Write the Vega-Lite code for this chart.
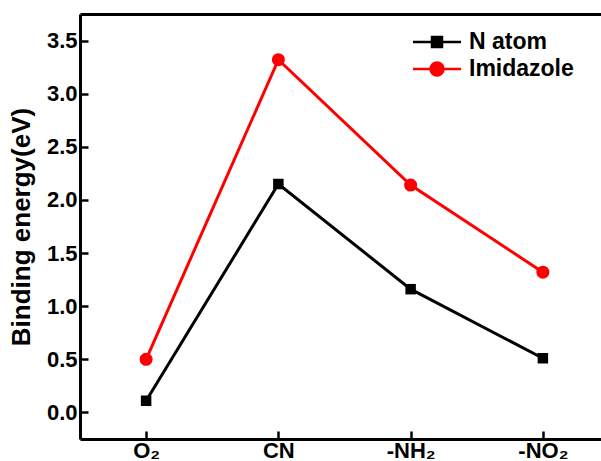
{
  "$schema": "https://vega.github.io/schema/vega-lite/v6.json",
  "width": 521,
  "height": 425,
  "autosize": {"type": "none"},
  "padding": {"left": 80, "top": 14, "right": 0, "bottom": 22},
  "background": "white",
  "config": {
    "view": {"stroke": null},
    "font": "Liberation Sans",
    "axis": {"labelFont": "Liberation Sans", "titleFont": "Liberation Sans", "labelFontWeight": "bold", "titleFontWeight": "bold", "labelColor": "black", "titleColor": "black", "domainColor": "black", "tickColor": "black", "domainWidth": 3, "tickWidth": 2.5, "grid": false}
  },
  "data": {
    "values": [
      {"group": "O₂", "series": "N atom", "energy": 0.11},
      {"group": "CN", "series": "N atom", "energy": 2.15},
      {"group": "-NH₂", "series": "N atom", "energy": 1.16},
      {"group": "-NO₂", "series": "N atom", "energy": 0.51},
      {"group": "O₂", "series": "Imidazole", "energy": 0.5},
      {"group": "CN", "series": "Imidazole", "energy": 3.32},
      {"group": "-NH₂", "series": "Imidazole", "energy": 2.14},
      {"group": "-NO₂", "series": "Imidazole", "energy": 1.32}
    ]
  },
  "layer": [
    {
      "mark": {"type": "line", "strokeWidth": 3},
      "encoding": {
        "x": {"field": "group", "type": "nominal", "sort": ["O₂", "CN", "-NH₂", "-NO₂"],
          "scale": {"type": "point", "padding": 0.5, "range": [0, 529]},
          "axis": {"orient": "bottom", "title": null, "labelAngle": 0, "labelFontSize": 22, "labelPadding": 9, "tickSize": -8, "domainWidth": 3}},
        "y": {"field": "energy", "type": "quantitative",
          "scale": {"domain": [-0.25, 3.75], "nice": false, "zero": false},
          "axis": {"title": "Binding energy(eV)", "titleFontSize": 26, "titleX": -51, "titleBaseline": "alphabetic", "labelFontSize": 22,
            "values": [0, 0.25, 0.5, 0.75, 1, 1.25, 1.5, 1.75, 2, 2.25, 2.5, 2.75, 3, 3.25, 3.5],
            "labelExpr": "datum.value % 0.5 === 0 ? format(datum.value, '.1f') : ''",
            "tickSize": {"condition": {"test": "datum.value % 0.5 === 0", "value": -8}, "value": -4},
            "labelPadding": 11}},
        "color": {"field": "series", "type": "nominal",
          "scale": {"domain": ["N atom", "Imidazole"], "range": ["#000000", "#ff0000"]},
          "legend": {"title": null, "orient": "none", "legendX": 342, "legendY": 13,
            "labelFontSize": 23, "labelFontWeight": "bold", "labelColor": "black", "labelOffset": 17,
            "symbolSize": 729, "symbolStrokeWidth": 2.5, "rowPadding": 0,
            "encode": {"symbols": {"update": {
              "shape": {"signal": "datum.value === 'N atom' ? 'M-1.78,0H1.78M-0.37,-0.37H0.37V0.37H-0.37Z' : 'M-1.78,0H-0.48A0.48,0.48 0 1,1 0.48,0A0.48,0.48 0 1,1 -0.48,0M0.48,0H1.78'"},
              "fill": {"scale": "color", "field": "value"},
              "stroke": {"scale": "color", "field": "value"}
            }}}}}
      }
    },
    {
      "transform": [{"filter": "datum.series === 'N atom'"}],
      "mark": {"type": "square", "filled": true, "opacity": 1, "size": 110, "color": "#000000"},
      "encoding": {
        "x": {"field": "group", "type": "nominal", "sort": ["O₂", "CN", "-NH₂", "-NO₂"],
          "scale": {"type": "point", "padding": 0.5, "range": [0, 529]},
          "axis": {"orient": "top", "title": null, "labels": false, "ticks": false, "domainWidth": 3}},
        "y": {"field": "energy", "type": "quantitative"}
      }
    },
    {
      "transform": [{"filter": "datum.series === 'Imidazole'"}],
      "mark": {"type": "circle", "opacity": 1, "size": 170, "color": "#ff0000"},
      "encoding": {
        "x": {"field": "group", "type": "nominal", "sort": ["O₂", "CN", "-NH₂", "-NO₂"], "axis": null},
        "y": {"field": "energy", "type": "quantitative"}
      }
    }
  ],
  "resolve": {"axis": {"x": "independent"}}
}
